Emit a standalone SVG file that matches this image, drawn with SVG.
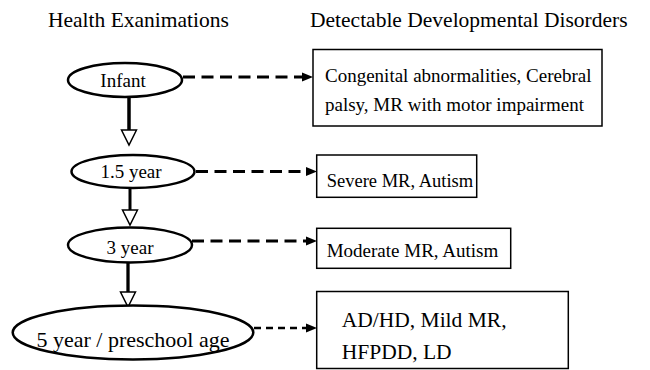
<svg xmlns="http://www.w3.org/2000/svg" width="650" height="370" viewBox="0 0 650 370">
  <style>
    text { font-family: "Liberation Serif", "Times New Roman", serif; fill: #000; }
    .hdr { font-size: 21.5px; }
    .lbl { font-size: 19px; }
    .big { font-size: 21.5px; }
    .oval { fill: #fff; stroke: #000; stroke-width: 2.5; }
    .box { fill: #fff; stroke: #000; stroke-width: 1.5; }
    .dash { fill: none; stroke: #000; stroke-width: 3; stroke-dasharray: 12 6.5; marker-end: url(#dashHead); }
    .dash2 { fill: none; stroke: #000; stroke-width: 2.5; stroke-dasharray: 7 5; marker-end: url(#dashHead); }
    .down { fill: none; stroke: #000; stroke-width: 3.5; marker-end: url(#hollowHead); }
  </style>
  <defs>
    <marker id="dashHead" markerUnits="userSpaceOnUse" viewBox="0 -6 12 12" markerWidth="12" markerHeight="12" refX="0" refY="0" orient="auto" overflow="visible">
      <path d="M0,-4.5 L11,0 L0,4.5 Z" fill="#000"/>
    </marker>
    <marker id="hollowHead" markerUnits="userSpaceOnUse" viewBox="-1 -9 18 18" markerWidth="18" markerHeight="18" refX="0" refY="0" orient="auto" overflow="visible">
      <path d="M0,-7.5 L15,0 L0,7.5 Z" fill="#fff" stroke="#000" stroke-width="1.5" stroke-linejoin="miter"/>
    </marker>
  </defs>

  <g id="headers">
    <text class="hdr" x="48" y="27">Health Exanimations</text>
    <text class="hdr" x="310" y="27">Detectable Developmental Disorders</text>
  </g>

  <g id="connectors">
    <line class="down" x1="129" y1="97" x2="129" y2="130"/>
    <line class="down" x1="130" y1="188" x2="130" y2="210" style="stroke-width:3"/>
    <line class="down" x1="128" y1="262" x2="128" y2="292" style="stroke-width:3.3"/>
    <line class="dash" x1="183" y1="77" x2="302" y2="77"/>
    <line class="dash" x1="196" y1="171.5" x2="306" y2="171.5"/>
    <line class="dash" x1="192" y1="241" x2="306" y2="241"/>
    <line class="dash2" x1="254" y1="328" x2="306" y2="328"/>
  </g>

  <g id="infant">
    <ellipse class="oval" cx="125" cy="80" rx="57" ry="17"/>
    <text class="lbl" x="123" y="87" text-anchor="middle">Infant</text>
  </g>
  <g id="year15">
    <ellipse class="oval" cx="133" cy="171.5" rx="61.5" ry="16.5"/>
    <text class="lbl" x="131" y="178" text-anchor="middle">1.5 year</text>
  </g>
  <g id="year3">
    <ellipse class="oval" cx="130" cy="245" rx="62" ry="17.5"/>
    <text class="lbl" x="130" y="254" text-anchor="middle">3 year</text>
  </g>
  <g id="year5">
    <ellipse class="oval" cx="133" cy="332.5" rx="120.3" ry="27"/>
    <text class="big" x="133" y="347" text-anchor="middle" style="font-size:22px">5 year / preschool age</text>
  </g>

  <g id="disorders-infant">
    <rect class="box" x="313" y="49.5" width="289" height="76.5"/>
    <text class="lbl" x="325" y="82">Congenital abnormalities, Cerebral</text>
    <text class="lbl" x="325" y="111">palsy, MR with motor impairment</text>
  </g>
  <g id="disorders-15">
    <rect class="box" x="316.7" y="155" width="160" height="42.3"/>
    <text class="lbl" x="326.7" y="186.5" style="font-size:18.5px">Severe MR, Autism</text>
  </g>
  <g id="disorders-3">
    <rect class="box" x="316.7" y="228.3" width="194" height="40"/>
    <text class="lbl" x="326.7" y="257">Moderate MR, Autism</text>
  </g>
  <g id="disorders-5">
    <rect class="box" x="316.7" y="291.5" width="251.6" height="77"/>
    <text class="big" x="341.7" y="326.5">AD/HD, Mild MR,</text>
    <text class="big" x="341.7" y="359">HFPDD, LD</text>
  </g>
</svg>
